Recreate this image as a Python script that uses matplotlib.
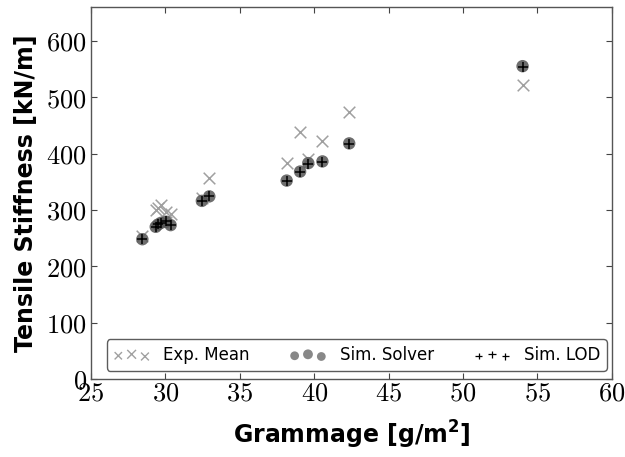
import matplotlib
matplotlib.use("Agg")
import matplotlib.pyplot as plt
from matplotlib.legend_handler import HandlerPathCollection

plt.rcParams['mathtext.fontset'] = 'cm'

grammage = [28.45, 29.35, 29.5, 29.7, 30.05, 30.35, 32.45, 32.95, 38.15, 39.05, 39.6, 40.55, 42.35, 54.0]
exp_mean = [254, 300, 304, 309, 296, 292, 322, 357, 383, 438, 390, 423, 474, 521]
sim_solver = [248, 270, 274, 277, 279, 273, 316, 324, 352, 368, 383, 386, 418, 555]
sim_lod = [248, 269, 275, 277, 280, 273, 315, 325, 351, 367, 382, 385, 417, 554]

xticks = [25, 30, 35, 40, 45, 50, 55, 60]
yticks = [0, 100, 200, 300, 400, 500, 600]

fig = plt.figure(figsize=(6.25, 4.57), dpi=100)
ax = fig.add_axes([0.1456, 0.1707, 0.979 - 0.1456, 0.9847 - 0.1707])

h1 = ax.scatter(grammage, exp_mean, marker='x', s=70, color='#a0a0a0', linewidths=1.1,
                label='Exp. Mean', zorder=2)
h2 = ax.scatter(grammage, sim_solver, marker='o', s=80, color='#555555', alpha=0.85,
                edgecolors='none', label='Sim. Solver', zorder=3)
h3 = ax.scatter(grammage, sim_lod, marker='+', s=55, color='black', linewidths=1.1,
                label='Sim. LOD', zorder=4)

ax.set_xlim(25, 60)
ax.set_ylim(0, 660)
ax.set_xticks(xticks)
ax.set_yticks(yticks)
ax.set_xticklabels([r'$%d$' % v for v in xticks], fontsize=19)
ax.set_yticklabels([r'$%d$' % v for v in yticks], fontsize=19)
ax.tick_params(direction='in', length=4, width=0.8, color='#444444',
               top=True, right=True, pad=3)
ax.tick_params(axis='x', pad=1)
for s in ax.spines.values():
    s.set_color('#555555')
    s.set_linewidth(1.0)

xl = ax.set_xlabel(r'Grammage [g/m$\mathbf{^2}$]', fontsize=17, fontweight='bold', labelpad=9)
xl.set_math_fontfamily('dejavusans')
ax.set_ylabel('Tensile Stiffness [kN/m]', fontsize=17, fontweight='bold', labelpad=6)

h1l = ax.scatter([], [], marker='x', s=50, color='#a0a0a0', linewidths=1.0)
h2l = ax.scatter([], [], marker='o', s=50, color='#888888', edgecolors='none')
h3l = ax.scatter([], [], marker='+', s=40, color='black', linewidths=0.9)
hmap = {h1l: HandlerPathCollection(sizes=[28, 40, 32]),
        h2l: HandlerPathCollection(sizes=[40, 50, 40]),
        h3l: HandlerPathCollection(sizes=[22, 30, 26])}
leg = ax.legend([h1l, h2l, h3l], ['Exp. Mean', 'Sim. Solver', 'Sim. LOD'],
                handler_map=hmap, scatterpoints=3, ncol=3, mode='expand',
                bbox_to_anchor=(0.03, 0.022, 0.96, 0.09), loc='lower left',
                fontsize=12, frameon=True, fancybox=True, borderaxespad=0,
                handletextpad=0.8, columnspacing=2.0, handlelength=2.2)
leg.get_frame().set_edgecolor('#333333')
leg.get_frame().set_linewidth(1.0)

fig.savefig('out.png', dpi=100)
